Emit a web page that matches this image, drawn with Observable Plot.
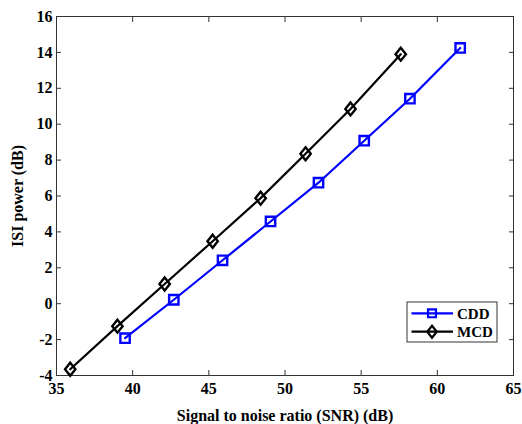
<!DOCTYPE html>
<html>
<head>
<meta charset="utf-8">
<script src="https://cdn.jsdelivr.net/npm/d3@7"></script>
<script src="https://cdn.jsdelivr.net/npm/@observablehq/plot@0.6"></script>
<style>
  html, body { margin: 0; padding: 0; background: #fff; }
  #chart { width: 522px; height: 424px; }
  #chart svg text { font-family: 'Liberation Serif', 'Times New Roman', serif; font-weight: bold; }
</style>
</head>
<body>
<div id="chart"></div>
<script>
const seriesNames = ["CDD", "MCD"];
const cddSNR = [39.5, 42.7, 45.9, 49.05, 52.2, 55.2, 58.2, 61.5];
const cddISI = [-1.92, 0.22, 2.42, 4.58, 6.74, 9.08, 11.42, 14.25];
const mcdSNR = [35.9, 39.0, 42.1, 45.25, 48.4, 51.35, 54.3, 57.6];
const mcdISI = [-3.65, -1.25, 1.1, 3.48, 5.88, 8.35, 10.85, 13.9];
const xTicks = [35, 40, 45, 50, 55, 60, 65];
const yTicks = [-4, -2, 0, 2, 4, 6, 8, 10, 12, 14, 16];
const xLabel = "Signal to noise ratio (SNR) (dB)";
const yLabel = "ISI power (dB)";
const colors = ["#0000ff", "#000000"];

const cdd = cddSNR.map((x, i) => ({x, y: cddISI[i], s: "CDD"}));
const mcd = mcdSNR.map((x, i) => ({x, y: mcdISI[i], s: "MCD"}));

const squareSym = {
  draw(ctx, size) {
    const h = Math.sqrt(size / Math.PI) * 0.9;
    ctx.moveTo(-h, -h); ctx.lineTo(h, -h); ctx.lineTo(h, h); ctx.lineTo(-h, h); ctx.closePath();
  }
};
const diamondSym = {
  draw(ctx, size) {
    const r = Math.sqrt(size / Math.PI);
    const w = r * 1.0, h = r * 1.25;
    ctx.moveTo(0, -h); ctx.lineTo(w, 0); ctx.lineTo(0, h); ctx.lineTo(-w, 0); ctx.closePath();
  }
};

const fam = "'Liberation Serif', 'Times New Roman', serif";
const font = {fontFamily: fam, fontSize: "16px", fontWeight: "bold"};
const fmt = d => String(d);

const plot = Plot.plot({
  width: 522,
  height: 424,
  marginLeft: 56,
  marginRight: 9,
  marginTop: 16,
  marginBottom: 49,
  style: {...font, background: "#fff", color: "#000", overflow: "visible"},
  x: {domain: [35, 65]},
  y: {domain: [-4, 16]},
  marks: [
    Plot.axisX(xTicks, {anchor: "bottom", tickSize: 0, tickPadding: 7, tickFormat: fmt, label: xLabel, labelAnchor: "center", labelArrow: "none", labelOffset: 45, fill: "#000", fontFamily: fam, fontWeight: "bold"}),
    Plot.axisY(yTicks, {anchor: "left", tickSize: 0, tickPadding: 4, tickFormat: fmt, label: yLabel, labelAnchor: "center", labelArrow: "none", labelOffset: 45, fill: "#000", fontFamily: fam, fontWeight: "bold"}),
    Plot.axisX(xTicks, {anchor: "bottom", tickSize: -5, tickFormat: () => "", label: null, stroke: "#333"}),
    Plot.axisX(xTicks, {anchor: "top", tickSize: -5, tickFormat: () => "", label: null, stroke: "#333"}),
    Plot.axisY(yTicks, {anchor: "left", tickSize: -5, tickFormat: () => "", label: null, stroke: "#333"}),
    Plot.axisY(yTicks, {anchor: "right", tickSize: -5, tickFormat: () => "", label: null, stroke: "#333"}),
    Plot.frame({stroke: "#333", strokeWidth: 1}),
    Plot.line(cdd, {x: "x", y: "y", stroke: colors[0], strokeWidth: 2.2}),
    Plot.line(mcd, {x: "x", y: "y", stroke: colors[1], strokeWidth: 2.2}),
    Plot.dot(cdd, {x: "x", y: "y", symbol: squareSym, r: 5.2, stroke: colors[0], strokeWidth: 2.4, fill: "none"}),
    Plot.dot(mcd, {x: "x", y: "y", symbol: diamondSym, r: 5.2, stroke: colors[1], strokeWidth: 2.4, fill: "none"})
  ]
});
document.getElementById("chart").appendChild(plot);

// Legend box inside plot area
const svg = d3.select(plot);
const lg = svg.append("g").attr("class", "legend");
const bx = 407, by = 302, bw = 90, bh = 40;
lg.append("rect").attr("x", bx).attr("y", by).attr("width", bw).attr("height", bh)
  .attr("fill", "#fff").attr("stroke", "#333").attr("stroke-width", 1);
const syms = [squareSym, diamondSym];
const symSizes = [4.4, 4.8];
seriesNames.forEach((name, i) => {
  const cy = by + 11.3 + i * 18.4;
  lg.append("line").attr("x1", bx + 4.5).attr("x2", bx + 46).attr("y1", cy).attr("y2", cy)
    .attr("stroke", colors[i]).attr("stroke-width", 2.2);
  lg.append("path").attr("d", d3.symbol(syms[i], symSizes[i] * symSizes[i] * Math.PI)())
    .attr("transform", `translate(${bx + 25},${cy})`)
    .attr("fill", "none").attr("stroke", colors[i]).attr("stroke-width", 2.2);
  lg.append("text").attr("x", bx + 50).attr("y", cy).attr("dy", "0.35em")
    .attr("text-anchor", "start")
    .attr("font-family", fam).attr("font-size", "15px").attr("font-weight", "bold")
    .attr("fill", "#000").text(name);
});
</script>
</body>
</html>
